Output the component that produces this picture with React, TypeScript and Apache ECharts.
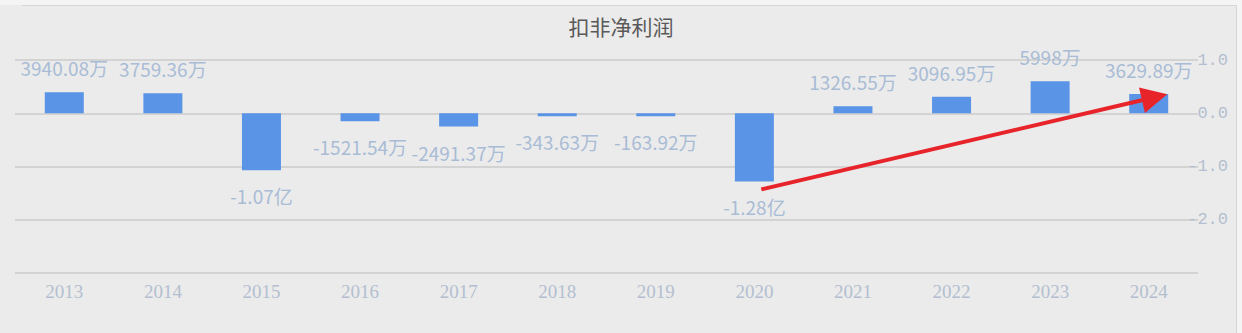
import React, { useEffect, useRef } from "react";
import * as echarts from "echarts";

const categories = ["2013", "2014", "2015", "2016", "2017", "2018", "2019", "2020", "2021", "2022", "2023", "2024"];
// values in 万元
const valuesWan = [3940.08, 3759.36, -10700, -1521.54, -2491.37, -343.63, -163.92, -12800, 1326.55, 3096.95, 5998, 3629.89];
const yTicks = [1, 0, -1, -2];
const title = "扣非净利润";
// arrow annotation in data space: [category position, value in 亿]
const arrowStart = [7.07, -1.43];
const arrowEnd = [11.06, 0.3];

function fmtLabel(v: number): string {
  if (Math.abs(v) >= 10000) return (v / 10000).toFixed(2) + "亿";
  return String(v) + "万";
}

export default function App() {
  const ref = useRef<HTMLDivElement>(null);
  useEffect(() => {
    document.body.style.margin = "0";
    const chart = echarts.init(ref.current!, null, { renderer: "svg" });
    chart.setOption({
      animation: false,
      backgroundColor: "#ebebeb",
      title: {
        text: title,
        left: "center",
        top: 10,
        textStyle: { fontSize: 21, fontWeight: "normal", color: "#595959", fontFamily: "Noto Sans CJK SC" },
      },
      graphic: [
        { type: "rect", shape: { x: 0, y: 0, width: 1242, height: 5 }, style: { fill: "#f4f4f4" }, silent: true },
        { type: "rect", shape: { x: 1237, y: 0, width: 5, height: 333 }, style: { fill: "#f4f4f4" }, silent: true },
        { type: "line", shape: { x1: 22, y1: 5.5, x2: 1236, y2: 5.5 }, style: { stroke: "#d6d6d6", lineWidth: 1 }, silent: true },
        { type: "line", shape: { x1: 1236.5, y1: 5, x2: 1236.5, y2: 333 }, style: { stroke: "#d6d6d6", lineWidth: 1 }, silent: true },
      ],
      grid: { left: 15, right: 44, top: 60, bottom: 60, containLabel: false },
      xAxis: [
        {
          type: "category",
          data: categories,
          axisLine: { show: false },
          axisTick: { show: false },
          axisLabel: { color: "#b3bfd0", fontSize: 19, fontFamily: "Liberation Serif", margin: 9 },
        },
        {
          type: "value",
          min: -0.5,
          max: categories.length - 0.5,
          show: false,
        },
      ],
      yAxis: {
        type: "value",
        position: "right",
        min: -3,
        max: 1,
        interval: 1,
        axisLine: { show: false },
        axisTick: { show: false },
        splitLine: { lineStyle: { color: "#d3d3d3", width: 2 } },
        axisLabel: {
          color: "#b3bfd0",
          fontSize: 17,
          fontFamily: "Liberation Mono",
          align: "right",
          margin: 30,
          formatter: (v: number) => (yTicks.includes(v) ? v.toFixed(1) : ""),
        },
      },
      series: [
        {
          type: "bar",
          xAxisIndex: 0,
          data: valuesWan.map((v) => ({
            value: v / 10000,
            label: { position: v >= 0 ? "top" : "bottom", distance: v >= 0 ? 15 : 16 },
          })),
          barWidth: 39,
          barMinHeight: 3,
          itemStyle: { color: "#5a94e6" },
          label: {
            show: true,
            formatter: (p: any) => fmtLabel(valuesWan[p.dataIndex]),
            color: "#a9bcd6",
            fontSize: 19,
            fontFamily: "Noto Sans CJK SC",
          },
        },
        {
          type: "line",
          xAxisIndex: 1,
          data: [],
          markLine: {
            silent: true,
            symbol: ["none", "triangle"],
            symbolSize: 26,
            label: { show: false },
            lineStyle: { color: "#e8242b", width: 4, type: "solid" },
            itemStyle: { color: "#e8242b" },
            data: [[{ coord: arrowStart }, { coord: arrowEnd }]],
          },
        },
      ],
    });
    return () => chart.dispose();
  }, []);
  return <div ref={ref} style={{ width: 1242, height: 333 }} />;
}
